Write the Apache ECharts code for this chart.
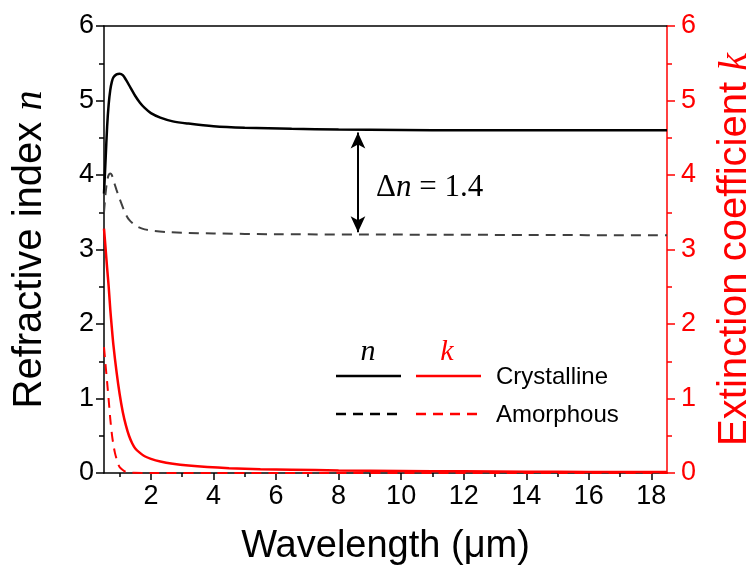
<!DOCTYPE html>
<html>
<head>
<meta charset="utf-8">
<script src="https://cdn.jsdelivr.net/npm/echarts@6/dist/echarts.min.js"></script>
<style>html,body{margin:0;padding:0;background:#fff}#c{width:752px;height:567px}</style>
</head>
<body>
<div id="c"></div>
<script>
// ---- data (wavelength in µm) ----
const nCrystalline = [[0.5,3.75],[0.55,4.2],[0.6,4.65],[0.65,4.95],[0.7,5.14],[0.75,5.25],[0.8,5.31],[0.9,5.35],[1.0,5.36],[1.1,5.34],[1.2,5.28],[1.35,5.17],[1.5,5.06],[1.65,4.97],[1.8,4.9],[2.0,4.83],[2.3,4.77],[2.7,4.72],[3.2,4.69],[4.0,4.655],[5,4.635],[6.5,4.62],[8,4.61],[10,4.605],[12,4.6],[15,4.6],[18.5,4.6]];
const nAmorphous = [[0.5,3.5],[0.55,3.75],[0.6,3.92],[0.65,4.0],[0.7,4.02],[0.75,4.0],[0.8,3.93],[0.9,3.8],[1.0,3.68],[1.1,3.57],[1.2,3.47],[1.3,3.4],[1.45,3.34],[1.6,3.3],[1.8,3.27],[2.1,3.25],[2.5,3.235],[3,3.225],[4,3.215],[6,3.205],[10,3.2],[14,3.195],[18.5,3.19]];
const kCrystalline = [[0.5,3.28],[0.55,3.02],[0.6,2.75],[0.65,2.5],[0.7,2.2],[0.75,1.95],[0.8,1.72],[0.9,1.36],[1.0,1.06],[1.1,0.82],[1.2,0.64],[1.3,0.5],[1.4,0.4],[1.5,0.33],[1.65,0.27],[1.8,0.225],[2.0,0.19],[2.3,0.155],[2.7,0.125],[3.2,0.1],[3.8,0.08],[4.5,0.065],[5.5,0.052],[6.5,0.045],[8,0.035],[10,0.028],[12,0.022],[14,0.018],[16,0.015],[18.5,0.012]];
const kAmorphous = [[0.5,1.69],[0.55,1.45],[0.6,1.22],[0.65,0.98],[0.7,0.73],[0.75,0.53],[0.8,0.38],[0.85,0.27],[0.9,0.19],[0.95,0.12],[1.0,0.08],[1.1,0.04],[1.2,0.015],[1.4,0.003],[2,0],[4,0],[18.5,0]];
const xMajorTicks = [2,4,6,8,10,12,14,16,18];
const xMinorTicks = [1,3,5,7,9,11,13,15,17];
const xRange = [0.5, 18.5];
const yRange = [0, 6];
const deltaArrow = [[8.62,4.57],[8.62,3.23]];

const SANS = 'Liberation Sans, Arial, sans-serif';
const SERIF = 'Liberation Serif, Times New Roman, serif';
const RED = '#ff0000';

const chart = echarts.init(document.getElementById('c'));
const baseX = {type:'value', min:xRange[0], max:xRange[1], splitLine:{show:false}};
chart.setOption({
  animation:false,
  backgroundColor:'#fff',
  grid:{left:104, right:85, top:26, bottom:94, containLabel:false, outerBoundsMode:'none'},
  xAxis:[
    Object.assign({}, baseX, {
      position:'bottom',
      name:'Wavelength (μm)', nameLocation:'middle', nameGap:55,
      nameTextStyle:{fontFamily:SANS, fontSize:38, color:'#000'},
      axisLine:{show:true, onZero:false, lineStyle:{color:'#000', width:1.5}},
      axisTick:{show:true, length:7, lineStyle:{color:'#000', width:1.5}, customValues:xMajorTicks},
      axisLabel:{show:true, fontFamily:SANS, fontSize:27, color:'#000', margin:10, customValues:xMajorTicks}
    }),
    Object.assign({}, baseX, {
      position:'bottom',
      axisLine:{show:false},
      axisTick:{show:true, length:4, lineStyle:{color:'#000', width:1.5}, customValues:xMinorTicks},
      axisLabel:{show:false}
    }),
    Object.assign({}, baseX, {
      position:'top',
      axisLine:{show:true, onZero:false, lineStyle:{color:'#000', width:1.5}},
      axisTick:{show:false},
      axisLabel:{show:false}
    })
  ],
  yAxis:[
    {type:'value', min:yRange[0], max:yRange[1], interval:1, position:'left',
     splitLine:{show:false},
     name:'{a|Refractive index }{i|n}', nameLocation:'middle', nameGap:54,
     nameTextStyle:{rich:{a:{fontFamily:SANS, fontSize:40, color:'#000'}, i:{fontFamily:SERIF, fontStyle:'italic', fontSize:40, color:'#000'}}},
     axisLine:{show:true, onZero:false, lineStyle:{color:'#000', width:1.5}},
     axisTick:{show:true, length:8, lineStyle:{color:'#000', width:1.5}},
     minorTick:{show:true, splitNumber:2, length:5, lineStyle:{color:'#000', width:1.5}},
     axisLabel:{fontFamily:SANS, fontSize:27, color:'#000', margin:10}},
    {type:'value', min:yRange[0], max:yRange[1], interval:1, position:'right',
     splitLine:{show:false},
     name:'{a|Extinction coefficient }{i|k}', nameLocation:'middle', nameGap:48,
     nameTextStyle:{rich:{a:{fontFamily:SANS, fontSize:40, color:RED}, i:{fontFamily:SERIF, fontStyle:'italic', fontSize:40, color:RED}}},
     axisLine:{show:true, onZero:false, lineStyle:{color:RED, width:1.5}},
     axisTick:{show:true, length:8, lineStyle:{color:RED, width:1.5}},
     minorTick:{show:true, splitNumber:2, length:5, lineStyle:{color:RED, width:1.5}},
     axisLabel:{fontFamily:SANS, fontSize:27, color:RED, margin:14}}
  ],
  series:[
    {name:'n crystalline', type:'line', xAxisIndex:0, yAxisIndex:0, data:nCrystalline, showSymbol:false, smooth:0.3, clip:false,
     lineStyle:{color:'#000', width:2.5},
     markLine:{silent:true, symbol:['arrow','arrow'], symbolSize:[11,16], label:{show:false},
       lineStyle:{color:'#000', width:2, type:'solid'},
       data:[[{coord:deltaArrow[0]},{coord:deltaArrow[1]}]]}},
    {name:'n amorphous', type:'line', xAxisIndex:0, yAxisIndex:0, data:nAmorphous, showSymbol:false, smooth:0.3, clip:false,
     lineStyle:{color:'#404040', width:2, type:[10,7]}},
    {name:'k crystalline', type:'line', xAxisIndex:0, yAxisIndex:1, data:kCrystalline, showSymbol:false, smooth:0.3, clip:false,
     lineStyle:{color:RED, width:2.5}},
    {name:'k amorphous', type:'line', xAxisIndex:0, yAxisIndex:1, data:kAmorphous, showSymbol:false, smooth:0.3, clip:false,
     lineStyle:{color:RED, width:2, type:[10,7]}}
  ],
  graphic:[
    {type:'text', left:376, top:172, style:{text:'{d|Δ}{i|n}{d| = 1.4}', rich:{d:{fontFamily:SERIF, fontSize:31, fill:'#000'}, i:{fontFamily:SERIF, fontStyle:'italic', fontSize:31, fill:'#000'}}}},
    {type:'text', x:368, y:352, style:{text:'n', fontFamily:SERIF, fontStyle:'italic', fontSize:30, fill:'#000', align:'center', verticalAlign:'middle'}},
    {type:'text', x:447, y:352, style:{text:'k', fontFamily:SERIF, fontStyle:'italic', fontSize:30, fill:RED, align:'center', verticalAlign:'middle'}},
    {type:'line', shape:{x1:336, y1:376, x2:401, y2:376}, style:{stroke:'#000', lineWidth:2.5}},
    {type:'line', shape:{x1:416, y1:376, x2:481, y2:376}, style:{stroke:RED, lineWidth:2.5}},
    {type:'line', shape:{x1:336, y1:414, x2:401, y2:414}, style:{stroke:'#000', lineWidth:2.5, lineDash:[10,7]}},
    {type:'line', shape:{x1:416, y1:414, x2:481, y2:414}, style:{stroke:RED, lineWidth:2.5, lineDash:[10,7]}},
    {type:'text', x:496, y:377, style:{text:'Crystalline', fontFamily:SANS, fontSize:24, fill:'#000', verticalAlign:'middle'}},
    {type:'text', x:496, y:415, style:{text:'Amorphous', fontFamily:SANS, fontSize:24, fill:'#000', verticalAlign:'middle'}}
  ]
});
</script>
</body>
</html>
